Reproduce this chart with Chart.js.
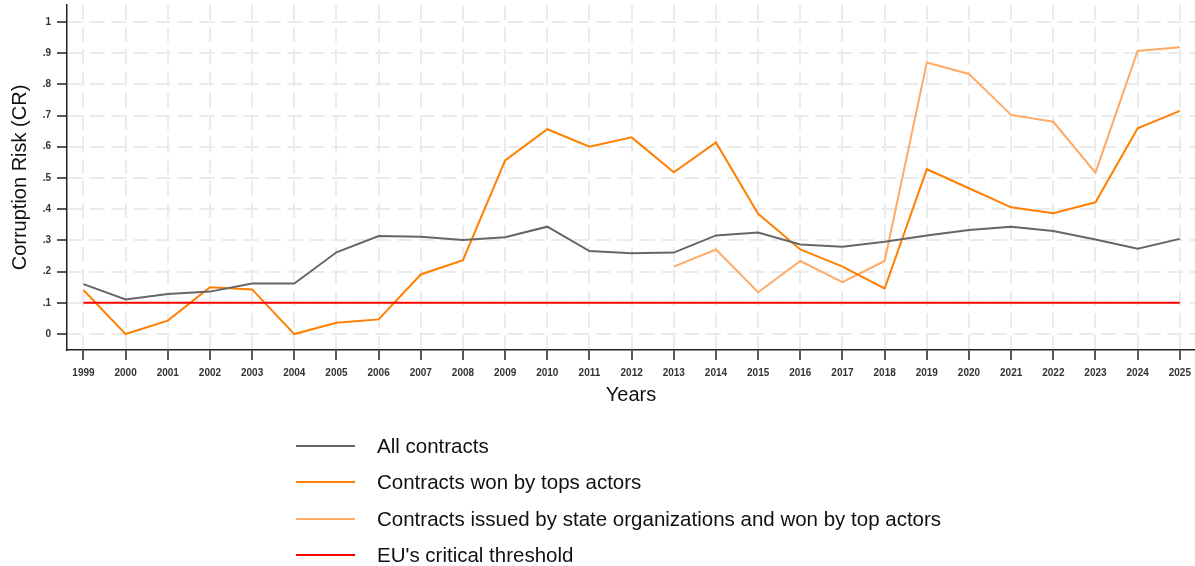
<!DOCTYPE html>
<html>
<head>
<meta charset="utf-8">
<script src="https://cdn.jsdelivr.net/npm/chart.js@4"></script>
<style>
  body { margin: 0; background: #fff; font-family: "Liberation Sans", Arial, sans-serif; }
  #wrap { position: relative; width: 1195px; height: 566px; }
  #legend { position: absolute; left: 296px; top: 428px; }
  .row { height: 36.3px; display: flex; align-items: center; font-size: 20.5px; color: #111; white-space: nowrap; }
  .swatch { width: 59px; height: 2px; margin-right: 22px; }
</style>
</head>
<body>
<div id="wrap">
  <canvas id="crChart"></canvas>
  <div id="legend"></div>
</div>
<script>
const years = [1999, 2000, 2001, 2002, 2003, 2004, 2005, 2006, 2007, 2008, 2009, 2010, 2011,
  2012, 2013, 2014, 2015, 2016, 2017, 2018, 2019, 2020, 2021, 2022, 2023, 2024, 2025];

const allContracts = [0.160, 0.111, 0.128, 0.136, 0.162, 0.162, 0.262, 0.314, 0.312, 0.301,
  0.310, 0.344, 0.266, 0.259, 0.261, 0.316, 0.325, 0.287, 0.280, 0.296, 0.316, 0.333,
  0.344, 0.330, 0.303, 0.273, 0.305];

const topActors = [0.141, 0.000, 0.043, 0.150, 0.143, 0.000, 0.036, 0.047, 0.191, 0.237,
  0.556, 0.656, 0.600, 0.630, 0.518, 0.614, 0.385, 0.271, 0.216, 0.146, 0.528, 0.467,
  0.406, 0.387, 0.422, 0.659, 0.715];

const stateTopActors = [null, null, null, null, null, null, null, null, null, null, null,
  null, null, null, 0.216, 0.271, 0.134, 0.234, 0.166, 0.234, 0.870, 0.833, 0.702, 0.680,
  0.517, 0.907, 0.919];

const euThreshold = 0.1;

const yTickValues = [0, 0.1, 0.2, 0.3, 0.4, 0.5, 0.6, 0.7, 0.8, 0.9, 1];
const yTickLabels = ['0', '.1', '.2', '.3', '.4', '.5', '.6', '.7', '.8', '.9', '1'];

const seriesLabels = ['All contracts', 'Contracts won by tops actors',
  'Contracts issued by state organizations and won by top actors', "EU's critical threshold"];

function toPoints(values) {
  return years.map((yr, i) => ({ x: yr, y: values[i] }));
}

const tickFont = { family: 'Liberation Sans', size: 10, weight: 'bold' };
const titleFont = { family: 'Liberation Sans', size: 20 };

const chart = new Chart(document.getElementById('crChart'), {
  type: 'line',
  data: {
    datasets: [
      { label: seriesLabels[0], data: toPoints(allContracts), borderColor: '#666666', order: 1 },
      { label: seriesLabels[1], data: toPoints(topActors), borderColor: '#ff8000', order: 2 },
      { label: seriesLabels[2], data: toPoints(stateTopActors), borderColor: '#ffaa66', order: 3 },
      { label: seriesLabels[3], data: toPoints(years.map(() => euThreshold)), borderColor: '#ff0000', order: 0 }
    ]
  },
  options: {
    responsive: true,
    maintainAspectRatio: false,
    animation: false,
    layout: { padding: { top: 5, bottom: 154, left: 0, right: 0 } },
    elements: {
      line: { borderWidth: 2, tension: 0, fill: false },
      point: { radius: 0, hoverRadius: 0 }
    },
    plugins: { legend: { display: false }, tooltip: { enabled: false } },
    scales: {
      x: {
        type: 'linear',
        min: 1998.61,
        max: 2025.36,
        afterBuildTicks: scale => { scale.ticks = years.map(v => ({ value: v })); },
        afterFit: scale => { scale.height = 62; scale.paddingLeft = 0; scale.paddingRight = 0; },
        ticks: {
          autoSkip: false, maxRotation: 0, padding: 7,
          font: tickFont, color: '#333',
          callback: value => String(value)
        },
        grid: { color: '#ebebeb', lineWidth: 2, tickColor: '#222', tickWidth: 1.5, tickLength: 10 },
        border: { color: '#222', width: 1.5, dash: [15, 7] },
        title: { display: true, text: 'Years', font: titleFont, color: '#111', padding: { top: 0, bottom: 5 } }
      },
      y: {
        min: -0.051,
        max: 1.054,
        afterBuildTicks: scale => { scale.ticks = yTickValues.map(v => ({ value: v })); },
        afterFit: scale => { scale.width = 67; scale.paddingTop = 0; scale.paddingBottom = 0; },
        ticks: {
          padding: 6, font: tickFont, color: '#333',
          callback: (value, index) => yTickLabels[index]
        },
        grid: { color: '#ebebeb', lineWidth: 2, tickColor: '#222', tickWidth: 1.5, tickLength: 10 },
        border: { color: '#222', width: 1.5, dash: [15, 7] },
        title: { display: true, text: 'Corruption Risk (CR)', font: titleFont, color: '#111', padding: { top: 8, bottom: 0 } }
      }
    }
  }
});

// legend below the chart, one entry per row
const legendBox = document.getElementById('legend');
chart.data.datasets.forEach(ds => {
  const row = document.createElement('div');
  row.className = 'row';
  const swatch = document.createElement('span');
  swatch.className = 'swatch';
  swatch.style.background = ds.borderColor;
  const text = document.createElement('span');
  text.textContent = ds.label;
  row.appendChild(swatch);
  row.appendChild(text);
  legendBox.appendChild(row);
});
</script>
</body>
</html>
